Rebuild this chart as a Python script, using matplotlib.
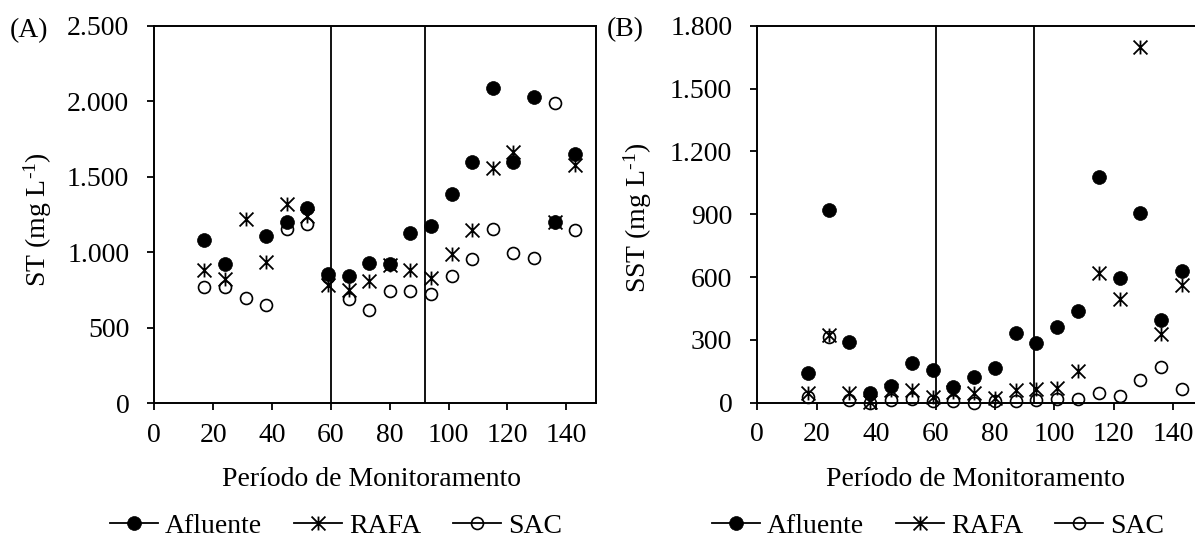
import numpy as np
import matplotlib
matplotlib.use("Agg")
import matplotlib.pyplot as plt
from matplotlib.path import Path
from matplotlib.lines import Line2D
from matplotlib.ticker import FuncFormatter

nan = np.nan

# ---------------- data ----------------
days = [17, 24, 31, 38, 45, 52, 59, 66, 73, 80, 87, 94, 101, 108, 115, 122, 129, 136, 143]

st_afluente = [1080, 920, nan, 1110, 1200, 1290, 855, 840, 930, 920, 1125, 1175, 1385, 1595, 2085, 1600, 2025, 1200, 1650]
st_rafa = [880, 820, 1220, 935, 1320, 1240, 780, 750, 810, 915, 880, 830, 985, 1150, 1560, 1660, nan, 1200, 1575]
st_sac = [770, 770, 695, 648, 1155, 1185, 835, 690, 620, 745, 745, 723, 840, 955, 1155, 995, 960, 1990, 1150]

sst_afluente = [143, 918, 288, 48, 80, 188, 155, 73, 122, 164, 331, 287, 362, 439, 1077, 594, 904, 395, 630]
sst_rafa = [45, 325, 48, 5, 62, 60, 28, 50, 48, 22, 62, 66, 68, 153, 617, 493, 1700, 326, 562]
sst_sac = [29, 312, 13, 0, 13, 20, 10, 10, 0, 8, 10, 13, 17, 17, 48, 33, 108, 172, 64]

series_names = ["Afluente", "RAFA", "SAC"]
phase_limits_a = [60, 92]
phase_limits_b = [60, 93]
xticks = [0, 20, 40, 60, 80, 100, 120, 140]
yticks_a = [0, 500, 1000, 1500, 2000, 2500]
yticks_b = [0, 300, 600, 900, 1200, 1500, 1800]

# ---------------- style ----------------
W, H = 1195, 538
FS = 20
plt.rcParams['font.family'] = ['Liberation Serif', 'DejaVu Serif']
plt.rcParams['mathtext.fontset'] = 'custom'
plt.rcParams['mathtext.rm'] = 'Liberation Serif'
plt.rcParams['mathtext.it'] = 'Liberation Serif:italic'
plt.rcParams['font.size'] = FS

star = Path([(-1, -1), (1, 1), (-1, 1), (1, -1), (0, -1), (0, 1)],
            [Path.MOVETO, Path.LINETO, Path.MOVETO, Path.LINETO, Path.MOVETO, Path.LINETO])

styles = [
    dict(marker='o', markersize=10, markerfacecolor='black', markeredgecolor='black', markeredgewidth=0.5),
    dict(marker=star, markersize=10, markerfacecolor='none', markeredgecolor='black', markeredgewidth=1.3),
    dict(marker='o', markersize=8.6, markerfacecolor='none', markeredgecolor='black', markeredgewidth=1.2),
]

fig = plt.figure(figsize=(W / 100, H / 100), dpi=100)


def px_axes(left, right, top, bottom):
    return [left / W, (H - bottom) / H, (right - left) / W, (bottom - top) / H]


fmt = FuncFormatter(lambda v, p: f"{int(round(v)):,}".replace(",", "."))


def make_panel(rect, ylist, yticks, ymax, phases):
    ax = fig.add_axes(rect)
    for y, st in zip(ylist, styles):
        ax.plot(days, y, linestyle='none', clip_on=False, **st)
    for p in phases:
        ax.axvline(p, color='black', lw=1.3, zorder=1)
    ax.set_xlim(0, 150)
    ax.set_ylim(0, ymax)
    ax.set_xticks(xticks)
    ax.set_yticks(yticks)
    ax.yaxis.set_major_formatter(fmt)
    ax.tick_params(axis='both', direction='out', length=5, width=1.3, labelsize=FS, colors='black')
    ax.tick_params(axis='x', pad=9)
    ax.tick_params(axis='y', pad=13)
    for s in ax.spines.values():
        s.set_linewidth(1.4)
        s.set_color('black')
    return ax


axA = make_panel(px_axes(154.3, 595.7, 25.5, 403.3), [st_afluente, st_rafa, st_sac], yticks_a, 2500, phase_limits_a)
axB = make_panel(px_axes(757.3, 757.3 + 2.97 * 150, 25.7, 402.7), [sst_afluente, sst_rafa, sst_sac], yticks_b, 1800, phase_limits_b)


def ftext(x, y, s, **kw):
    fig.text(x / W, 1 - y / H, s, fontsize=FS, **kw)


ftext(10, 31, "(A)", ha='left', va='center')
ftext(607, 30, "(B)", ha='left', va='center')
ftext(38, 220, "ST (mg L$^{\u2010\\mathregular{1}}$)", ha='center', va='center', rotation=90)
ftext(638, 218, "SST (mg L$^{\u2010\\mathregular{1}}$)", ha='center', va='center', rotation=90)
ftext(371.5, 479, "Período de Monitoramento", ha='center', va='center')
ftext(975, 479, "Período de Monitoramento", ha='center', va='center')

handles = [Line2D([], [], color='black', lw=1.3, **st) for st in styles]
for x0 in (110, 712):
    fig.legend(handles, series_names, loc='center left', bbox_to_anchor=(x0 / W, 1 - 526 / H),
               ncol=3, frameon=False, borderpad=0, borderaxespad=0, handlelength=1.73,
               handletextpad=0.25, columnspacing=1.15, fontsize=FS)

fig.savefig("out.png", dpi=100)
